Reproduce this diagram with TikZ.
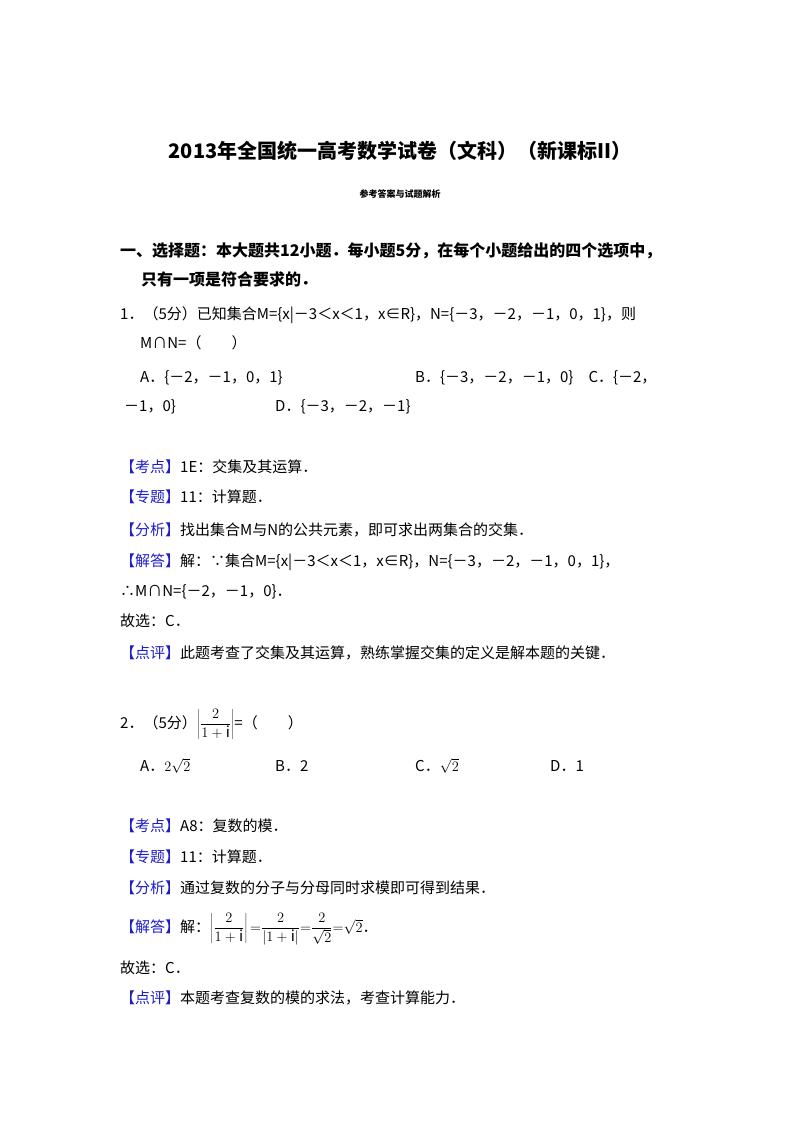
\documentclass[tikz,border=0pt]{standalone}
\usepackage{fontspec}
\setmainfont{Noto Sans CJK SC}
\definecolor{kb}{RGB}{30,30,200}
\tikzset{t/.style={anchor=base west,inner sep=0pt,font=\fontsize{15}{18}\selectfont}}
\newcommand{\lb}[1]{\textcolor{kb}{【#1】}}
\newcommand{\dfr}[2]{{\displaystyle\frac{#1}{#2}}}
\begin{document}
\begin{tikzpicture}[x=1pt,y=-1pt]
\useasboundingbox[fill=white] (0,0) rectangle (800,1132);
\node[anchor=base,inner sep=0pt,font=\fontsize{20}{24}\selectfont\bfseries] (title) at (400,158) {2013年全国统一高考数学试卷（文科）（新课标II）};
\node[anchor=base,inner sep=0pt,font=\fontsize{9}{10}\selectfont\bfseries] (sub) at (400,197) {参考答案与试题解析};
\node[t,font=\fontsize{16}{18}\selectfont\bfseries] (s1) at (120,256) {一、选择题：本大题共12小题．每小题5分，在每个小题给出的四个选项中，};
\node[t,font=\fontsize{16}{18}\selectfont\bfseries] (s2) at (141,285) {只有一项是符合要求的．};
\node[t] (q1) at (120,319) {1．（5分）已知集合M=\{x|－3＜x＜1，x∈R\}，N=\{－3，－2，－1，0，1\}，则};
\node[t] (q1b) at (140,348) {M∩N=（　　）};
\node[t] (q1a) at (140,382) {A．\{－2，－1，0，1\}};
\node[t] (q1bc) at (415,382) {B．\{－3，－2，－1，0\}　C．\{－2，};
\node[t] (q1c2) at (124,411) {－1，0\}};
\node[t] (q1d) at (275,411) {D．\{－3，－2，－1\}};
\node[t] (k1) at (120,472) {\lb{考点}1E：交集及其运算．};
\node[t] (z1) at (120,502) {\lb{专题}11：计算题．};
\node[t] (f1) at (120,535) {\lb{分析}找出集合M与N的公共元素，即可求出两集合的交集．};
\node[t] (j1) at (120,566) {\lb{解答}解：∵集合M=\{x|－3＜x＜1，x∈R\}，N=\{－3，－2，－1，0，1\}，};
\node[t] (j1b) at (120,596) {∴M∩N=\{－2，－1，0\}．};
\node[t] (g1) at (120,626) {故选：C．};
\node[t] (d1) at (120,658) {\lb{点评}此题考查了交集及其运算，熟练掌握交集的定义是解本题的关键．};
\node[t] (q2) at (120,728) {2．（5分）$\left|\dfr{2}{1+\mathrm{i}}\right|$=（　　）};
\node[t] (a2) at (140,771) {A．$2\sqrt{2}$};
\node[t] (b2) at (275,771) {B．2};
\node[t] (c2) at (415,771) {C．$\sqrt{2}$};
\node[t] (dd2) at (550,771) {D．1};
\node[t] (k2) at (120,831) {\lb{考点}A8：复数的模．};
\node[t] (z2) at (120,862) {\lb{专题}11：计算题．};
\node[t] (f2) at (120,893) {\lb{分析}通过复数的分子与分母同时求模即可得到结果．};
\node[t] (j2) at (120,932) {\lb{解答}解：$\left|\dfr{2}{1+\mathrm{i}}\right|{=}\dfr{2}{|1+\mathrm{i}|}{=}\dfr{2}{\sqrt{2}}{=}\sqrt{2}$．};
\node[t] (g2) at (120,973) {故选：C．};
\node[t] (d2) at (120,1003) {\lb{点评}本题考查复数的模的求法，考查计算能力．};
\end{tikzpicture}
\end{document}
